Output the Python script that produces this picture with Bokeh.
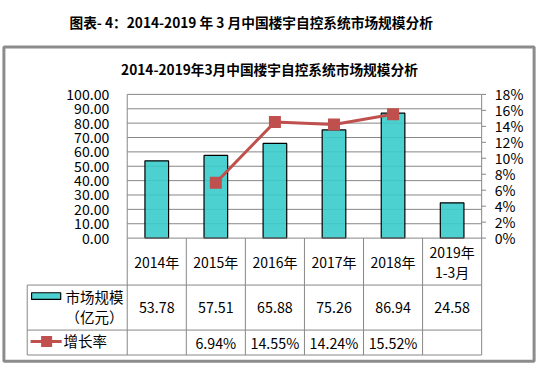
from bokeh.plotting import figure
from bokeh.models import Range1d
from bokeh.core.properties import value
from bokeh.embed import file_html
from bokeh.resources import INLINE

# ---------------- data ----------------
outer_title = "图表- 4：2014-2019 年 3 月中国楼宇自控系统市场规模分析"
inner_title = "2014-2019年3月中国楼宇自控系统市场规模分析"
categories = ["2014年", "2015年", "2016年", "2017年", "2018年", "2019年\n1-3月"]
market_size = [53.78, 57.51, 65.88, 75.26, 86.94, 24.58]          # 亿元
growth_rate = [None, 6.94, 14.55, 14.24, 15.52, None]              # %
left_ticks = [0, 10, 20, 30, 40, 50, 60, 70, 80, 90, 100]
left_tick_labels = ["0.00", "10.00", "20.00", "30.00", "40.00", "50.00",
                    "60.00", "70.00", "80.00", "90.00", "100.00"]
right_ticks = [0, 2, 4, 6, 8, 10, 12, 14, 16, 18]
right_tick_labels = ["0%", "2%", "4%", "6%", "8%", "10%", "12%", "14%", "16%", "18%"]
series_names = ["市场规模", "（亿元）", "增长率"]

# ---------------- layout (reference-image pixel space, scaled onto canvas) ----------------
W, H = 537, 366          # canvas
RW, RH = 553, 382        # layout space
S = (W / RW + H / RH) / 2
PLOT_L, PLOT_R = 130.5, 495.5
PLOT_T, PLOT_B = 98, 248
ROW1, ROW2, ROW3 = 297, 344, 370
LEG_L = 27.5

FONT = value("Noto Sans CJK SC")
TEAL = "#39CBCB"
RED = "#C0504D"
GRID = "#878787"
BOX = "#8C8C8C"


def fs(px):
    return f"{px * S:.2f}px"


def vrange(v0, v1, py_v0, py_v1):
    per = (py_v0 - py_v1) / (v1 - v0)
    return Range1d(start=v0 - (RH - py_v0) / per, end=v0 + py_v0 / per)


n = len(categories)
xper = (PLOT_R - PLOT_L) / n
cat_range = Range1d(start=0 - PLOT_L / xper, end=n + (RW - PLOT_R) / xper)

p = figure(width=W, height=H, x_range=Range1d(0, RW), y_range=Range1d(RH, 0),
           min_border=0, x_axis_type=None, y_axis_type=None,
           toolbar_location=None, output_backend="svg")
p.outline_line_color = None
p.background_fill_color = "white"
p.border_fill_color = "white"
p.extra_x_ranges = {"cat": cat_range}
p.extra_y_ranges = {"val": vrange(0, 100, PLOT_B, PLOT_T),
                    "pct": vrange(0, 18, PLOT_B, PLOT_T)}

# outer box
p.quad(left=3.5, right=549.5, top=48.5, bottom=376.5,
       fill_color=None, line_color=BOX, line_width=3)

# titles
p.text(x=[71], y=[22], text=[outer_title], text_font=FONT, text_font_style="bold",
       text_font_size=fs(14.2), text_baseline="middle", text_align="left", text_color="black")
p.text(x=[277], y=[71], text=[inner_title], text_font=FONT, text_font_style="bold",
       text_font_size=fs(14.2), text_baseline="middle", text_align="center", text_color="black")

# gridlines
gt = left_ticks[1:]
p.segment(x0=[0] * len(gt), x1=[n] * len(gt), y0=gt, y1=gt,
          x_range_name="cat", y_range_name="val", line_color=GRID, line_width=1)
# plot borders
p.segment(x0=[0, n], x1=[0, n], y0=[0, 0], y1=[100, 100],
          x_range_name="cat", y_range_name="val", line_color=GRID, line_width=1)
# right axis ticks
p.segment(x0=[PLOT_R] * len(right_ticks), x1=[PLOT_R + 4.5] * len(right_ticks),
          y0=right_ticks, y1=right_ticks, y_range_name="pct", line_color=GRID, line_width=1)

# axis labels
p.text(x=[112] * len(left_ticks), y=left_ticks, text=left_tick_labels, y_range_name="val",
       text_font=FONT, text_font_size=fs(14.6), text_align="right", text_baseline="middle",
       text_color="black")
p.text(x=[509] * len(right_ticks), y=right_ticks, text=right_tick_labels, y_range_name="pct",
       text_font=FONT, text_font_size=fs(14.6), text_align="left", text_baseline="middle",
       text_color="black")

# bars
xc = [i + 0.5 for i in range(n)]
p.vbar(x=xc, top=market_size, bottom=0, width=0.4, x_range_name="cat", y_range_name="val",
       fill_color=TEAL, fill_alpha=0.9, line_color="black", line_width=1.2)

# growth line
gx = [xc[i] for i, g in enumerate(growth_rate) if g is not None]
gy = [g for g in growth_rate if g is not None]
p.line(x=gx, y=gy, x_range_name="cat", y_range_name="pct", line_color=RED, line_width=3)
p.scatter(x=gx, y=gy, x_range_name="cat", y_range_name="pct", marker="square", size=12,
          fill_color=RED, line_color=None)

# data table lines
p.segment(x0=[PLOT_L, LEG_L, LEG_L, LEG_L], x1=[PLOT_R] * 4,
          y0=[PLOT_B, ROW1, ROW2, ROW3], y1=[PLOT_B, ROW1, ROW2, ROW3],
          line_color=GRID, line_width=1)
p.segment(x0=list(range(n + 1)), x1=list(range(n + 1)), y0=[PLOT_B] * (n + 1),
          y1=[ROW3] * (n + 1), x_range_name="cat", line_color=GRID, line_width=1)
p.segment(x0=[LEG_L], x1=[LEG_L], y0=[ROW1], y1=[ROW3], line_color=GRID, line_width=1)

# header texts
hx, hy, ht = [], [], []
for i, c in enumerate(categories):
    parts = c.split("\n")
    if len(parts) == 1:
        hx.append(xc[i]); hy.append(273); ht.append(parts[0])
    else:
        for j, s in enumerate(parts):
            hx.append(xc[i]); hy.append(263 + 20 * j); ht.append(s)
p.text(x=hx, y=hy, text=ht, x_range_name="cat", text_font=FONT, text_font_size=fs(14.5),
       text_align="center", text_baseline="middle", text_color="black")

# values row
p.text(x=xc, y=[320] * n, text=[f"{v:.2f}" for v in market_size], x_range_name="cat",
       text_font=FONT, text_font_size=fs(14.8), text_align="center", text_baseline="middle",
       text_color="black")
# growth row
p.text(x=gx, y=[357] * len(gx), text=[f"{g:.2f}%" for g in gy], x_range_name="cat",
       text_font=FONT, text_font_size=fs(14.8), text_align="center", text_baseline="middle",
       text_color="black")

# legend keys in table
p.quad(left=[32], right=[62], top=[305], bottom=[312], fill_color=TEAL, fill_alpha=0.9,
       line_color="black", line_width=1.2)
p.segment(x0=[31], x1=[63], y0=[356], y1=[356], line_color=RED, line_width=3)
p.scatter(x=[47.5], y=[356], marker="square", size=11, fill_color=RED, line_color=None)
p.text(x=[67, 67, 65], y=[309, 330, 355], text=series_names, text_font=FONT,
       text_font_size=fs(15), text_align="left", text_baseline="middle", text_color="black")

open("out.html", "w").write(file_html(p, INLINE))
